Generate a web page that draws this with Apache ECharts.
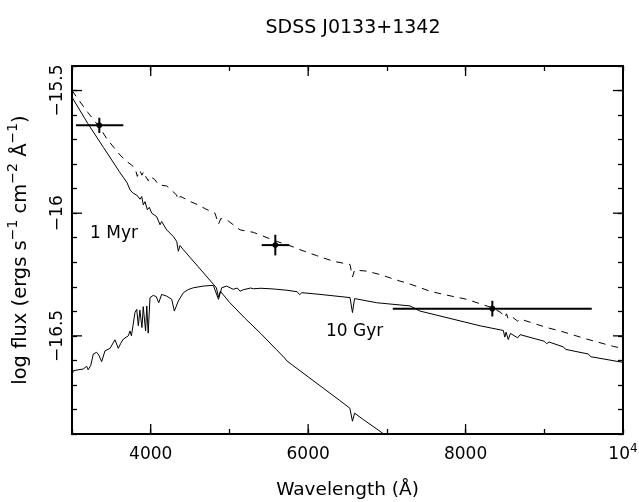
<!DOCTYPE html>
<html>
<head>
<meta charset="utf-8">
<script src="https://cdn.jsdelivr.net/npm/echarts@6/dist/echarts.min.js"></script>
<style>
html,body{margin:0;padding:0;background:#fff;}
#chart{width:639px;height:502px;}
</style>
</head>
<body>
<div id="chart"></div>
<script>
// ---- Data ----
const titleText = 'SDSS J0133+1342';
const xTickLabels = ['4000', '6000', '8000', '10^4'];
const yTickLabels = ['−15.5', '−16', '−16.5'];
const xMajorTicks = [4000, 6000, 8000];
const yMajorTicks = [-15.5, -16, -16.5];

// 1 Myr model spectrum
const myrWave = [3000,3200,3400,3600,3700,3737,3779,3800,3822,3843,3864,3886,3906,3928,3957,3982,4013,4033,4076,4118,4139,4160,4203,4287,4330,4351,4372,4415,4600,4800,4835,4861,4885,5000,5200,5400,5600,5700,5730,5800,6000,6200,6400,6530,6563,6590,6700,6900,7000];
const myrFlux = [-15.527,-15.634,-15.732,-15.830,-15.876,-15.905,-15.919,-15.912,-15.926,-15.919,-15.943,-15.932,-15.966,-15.953,-15.986,-15.976,-16.000,-15.993,-16.014,-16.047,-16.034,-16.040,-16.068,-16.095,-16.115,-16.155,-16.132,-16.149,-16.217,-16.291,-16.305,-16.342,-16.318,-16.363,-16.429,-16.491,-16.557,-16.590,-16.602,-16.619,-16.667,-16.715,-16.763,-16.795,-16.848,-16.815,-16.841,-16.886,-16.909];

// 10 Gyr model spectrum
const gyrWave = [3000,3017,3050,3144,3187,3205,3237,3271,3313,3340,3377,3419,3483,3546,3588,3620,3652,3715,3737,3755,3800,3822,3843,3862,3889,3905,3935,3950,3968,3991,4033,4070,4102,4139,4203,4267,4300,4351,4415,4478,4541,4668,4795,4861,4902,4966,5008,5050,5100,5135,5175,5270,5304,5400,5516,5600,5728,5860,5892,5920,6151,6532,6563,6590,6871,7295,7422,8184,8480,8498,8515,8542,8570,8662,8692,9000,9031,9060,9243,9270,9560,9590,10000];
const gyrFlux = [-16.660,-16.642,-16.640,-16.635,-16.624,-16.638,-16.622,-16.574,-16.567,-16.578,-16.605,-16.561,-16.551,-16.516,-16.551,-16.530,-16.513,-16.500,-16.480,-16.500,-16.405,-16.392,-16.459,-16.395,-16.466,-16.381,-16.480,-16.378,-16.489,-16.344,-16.335,-16.340,-16.365,-16.331,-16.338,-16.351,-16.399,-16.358,-16.324,-16.311,-16.304,-16.297,-16.294,-16.351,-16.304,-16.297,-16.304,-16.310,-16.305,-16.318,-16.312,-16.305,-16.308,-16.306,-16.308,-16.310,-16.314,-16.320,-16.332,-16.324,-16.331,-16.344,-16.405,-16.348,-16.365,-16.378,-16.399,-16.459,-16.478,-16.505,-16.485,-16.515,-16.490,-16.508,-16.495,-16.522,-16.532,-16.525,-16.545,-16.555,-16.574,-16.585,-16.608];

// Combined (dashed) spectrum
const sumWave = [3000,3100,3200,3347,3441,3610,3700,3758,3800,3830,3860,3889,3910,3935,3970,3990,4050,4102,4118,4203,4330,4340,4372,4400,4500,4600,4700,4817,4861,4890,4966,5135,5304,5601,5855,5897,6109,6320,6532,6563,6590,6744,6913,7168,7253,7549,7718,8015,8333,8450,8498,8520,8542,8600,8662,8700,8904,9031,9200,9539,9878,10000];
const sumFlux = [-15.500,-15.545,-15.589,-15.648,-15.696,-15.763,-15.790,-15.804,-15.815,-15.850,-15.825,-15.845,-15.830,-15.850,-15.868,-15.850,-15.862,-15.885,-15.878,-15.889,-15.926,-15.945,-15.932,-15.935,-15.952,-15.966,-15.983,-16.000,-16.045,-16.022,-16.027,-16.068,-16.078,-16.115,-16.142,-16.149,-16.173,-16.196,-16.209,-16.260,-16.232,-16.236,-16.250,-16.277,-16.284,-16.318,-16.331,-16.351,-16.385,-16.405,-16.425,-16.410,-16.432,-16.425,-16.440,-16.432,-16.453,-16.466,-16.480,-16.513,-16.543,-16.551];

// Photometric points with error bars
const ptWave   = [3347, 5583, 8340];
const ptFlux   = [-15.642, -16.130, -16.389];
const ptWaveLo = [3051, 5410, 7075];
const ptWaveHi = [3652, 5760, 9603];
const ptFluxErr = [0.031, 0.042, 0.032];

const modelLabels = ['1 Myr', '10 Gyr'];

// ---- Build chart ----
const zip = (a, b) => a.map((v, i) => [v, b[i]]);
const errData = ptWave.map((w, i) => [w, ptFlux[i], ptWaveLo[i], ptWaveHi[i], ptFluxErr[i]]);
const majorTickData = xMajorTicks.map(v => [v, -16, 0]).concat(yMajorTicks.map(v => [5000, v, 1]));

const FONT = 'DejaVu Sans';
const chart = echarts.init(document.getElementById('chart'), null, {renderer: 'canvas'});

const axisCommon = {
  axisLine: {show: true, onZero: false, lineStyle: {color: '#000', width: 2}},
  axisTick: {show: true, inside: true, length: 5, lineStyle: {color: '#000', width: 1.3}},
  splitLine: {show: false}
};

const xLabelMap = {4000: xTickLabels[0], 6000: xTickLabels[1], 8000: xTickLabels[2], 10000: xTickLabels[3]};
const yLabelMap = {'-155': yTickLabels[0], '-160': yTickLabels[1], '-165': yTickLabels[2]};

const option = {
  animation: false,
  backgroundColor: '#fff',
  title: {
    text: titleText, left: 348, top: 14, textAlign: 'center',
    textStyle: {fontFamily: FONT, fontSize: 19, fontWeight: 'normal', color: '#000'}
  },
  grid: {left: 72, right: 16, top: 66, bottom: 68, containLabel: false, outerBoundsMode: 'none'},
  xAxis: [
    Object.assign({
      type: 'value', min: 3000, max: 10000, interval: 1000, position: 'bottom',
      name: 'Wavelength (Å)', nameLocation: 'middle', nameGap: 47,
      nameTextStyle: {fontFamily: FONT, fontSize: 18.5, color: '#000'},
      axisLabel: {
        margin: 9, color: '#000', fontFamily: FONT, fontSize: 17,
        formatter: v => {
          const t = xLabelMap[v];
          if (!t) return '';
          if (t === '10^4') return '{b|10}{s|4}';
          return '{b|' + t + '}';
        },
        rich: {
          b: {fontFamily: FONT, fontSize: 17, color: '#000', lineHeight: 24},
          s: {fontFamily: FONT, fontSize: 12, color: '#000', lineHeight: 12, verticalAlign: 'top'}
        }
      }
    }, axisCommon),
    Object.assign({
      type: 'value', min: 3000, max: 10000, interval: 1000, position: 'top',
      axisLabel: {show: false}
    }, axisCommon)
  ],
  yAxis: [
    Object.assign({
      type: 'value', min: -16.9, max: -15.4, interval: 0.1, position: 'left',
      name: 'log flux (ergs s{s|−1} cm{s|−2} Å{s|−1})', nameLocation: 'middle', nameGap: 36,
      nameTextStyle: {
        fontFamily: FONT, fontSize: 19.5, color: '#000', lineHeight: 30,
        rich: {s: {fontFamily: FONT, fontSize: 14, color: '#000', lineHeight: 14, verticalAlign: 'top'}}
      },
      axisLabel: {
        rotate: 90, margin: 6, color: '#000', fontFamily: FONT, fontSize: 17,
        formatter: v => yLabelMap[String(Math.round(v * 10))] || ''
      }
    }, axisCommon),
    Object.assign({
      type: 'value', min: -16.9, max: -15.4, interval: 0.1, position: 'right',
      axisLabel: {show: false}
    }, axisCommon)
  ],
  series: [
    {
      name: 'sum', type: 'line', data: zip(sumWave, sumFlux), showSymbol: false, symbol: 'none',
      lineStyle: {color: '#000', width: 1, type: [7, 6]}, clip: true, silent: true
    },
    {
      name: '1 Myr', type: 'line', data: zip(myrWave, myrFlux), showSymbol: false, symbol: 'none',
      lineStyle: {color: '#000', width: 1}, clip: true, silent: true
    },
    {
      name: '10 Gyr', type: 'line', data: zip(gyrWave, gyrFlux), showSymbol: false, symbol: 'none',
      lineStyle: {color: '#000', width: 1}, clip: true, silent: true
    },
    {
      name: 'photometry', type: 'custom', data: errData, silent: true,
      renderItem: (params, api) => {
        const c = api.coord([api.value(0), api.value(1)]);
        const l = api.coord([api.value(2), api.value(1)]);
        const r = api.coord([api.value(3), api.value(1)]);
        const t = api.coord([api.value(0), api.value(1) + api.value(4)]);
        const b = api.coord([api.value(0), api.value(1) - api.value(4)]);
        const st = {stroke: '#000', lineWidth: 2};
        return {
          type: 'group',
          children: [
            {type: 'line', shape: {x1: l[0], y1: l[1], x2: r[0], y2: r[1]}, style: st},
            {type: 'line', shape: {x1: t[0], y1: t[1], x2: b[0], y2: b[1]}, style: st},
            {type: 'circle', shape: {cx: c[0], cy: c[1], r: 2.8}, style: {fill: '#000'}}
          ]
        };
      }
    },
    {
      // longer major ticks on all four sides of the frame
      name: 'majorTicks', type: 'custom', data: majorTickData, silent: true,
      renderItem: (params, api) => {
        const cs = params.coordSys;
        const p = api.coord([api.value(0), api.value(1)]);
        const L = 10;
        const st = {stroke: '#000', lineWidth: 1.3};
        const top = cs.y, bottom = cs.y + cs.height, left = cs.x, right = cs.x + cs.width;
        const ch = api.value(2) === 0
          ? [
              {type: 'line', shape: {x1: p[0], y1: bottom, x2: p[0], y2: bottom - L}, style: st},
              {type: 'line', shape: {x1: p[0], y1: top, x2: p[0], y2: top + L}, style: st}
            ]
          : [
              {type: 'line', shape: {x1: left, y1: p[1], x2: left + L, y2: p[1]}, style: st},
              {type: 'line', shape: {x1: right, y1: p[1], x2: right - L, y2: p[1]}, style: st}
            ];
        return {type: 'group', children: ch};
      }
    }
  ],
  graphic: [
    {type: 'text', left: 90, top: 225, style: {text: modelLabels[0], fontFamily: FONT, fontSize: 17, fill: '#000'}},
    {type: 'text', left: 326, top: 323, style: {text: modelLabels[1], fontFamily: FONT, fontSize: 17, fill: '#000'}}
  ]
};
chart.setOption(option);
</script>
</body>
</html>
